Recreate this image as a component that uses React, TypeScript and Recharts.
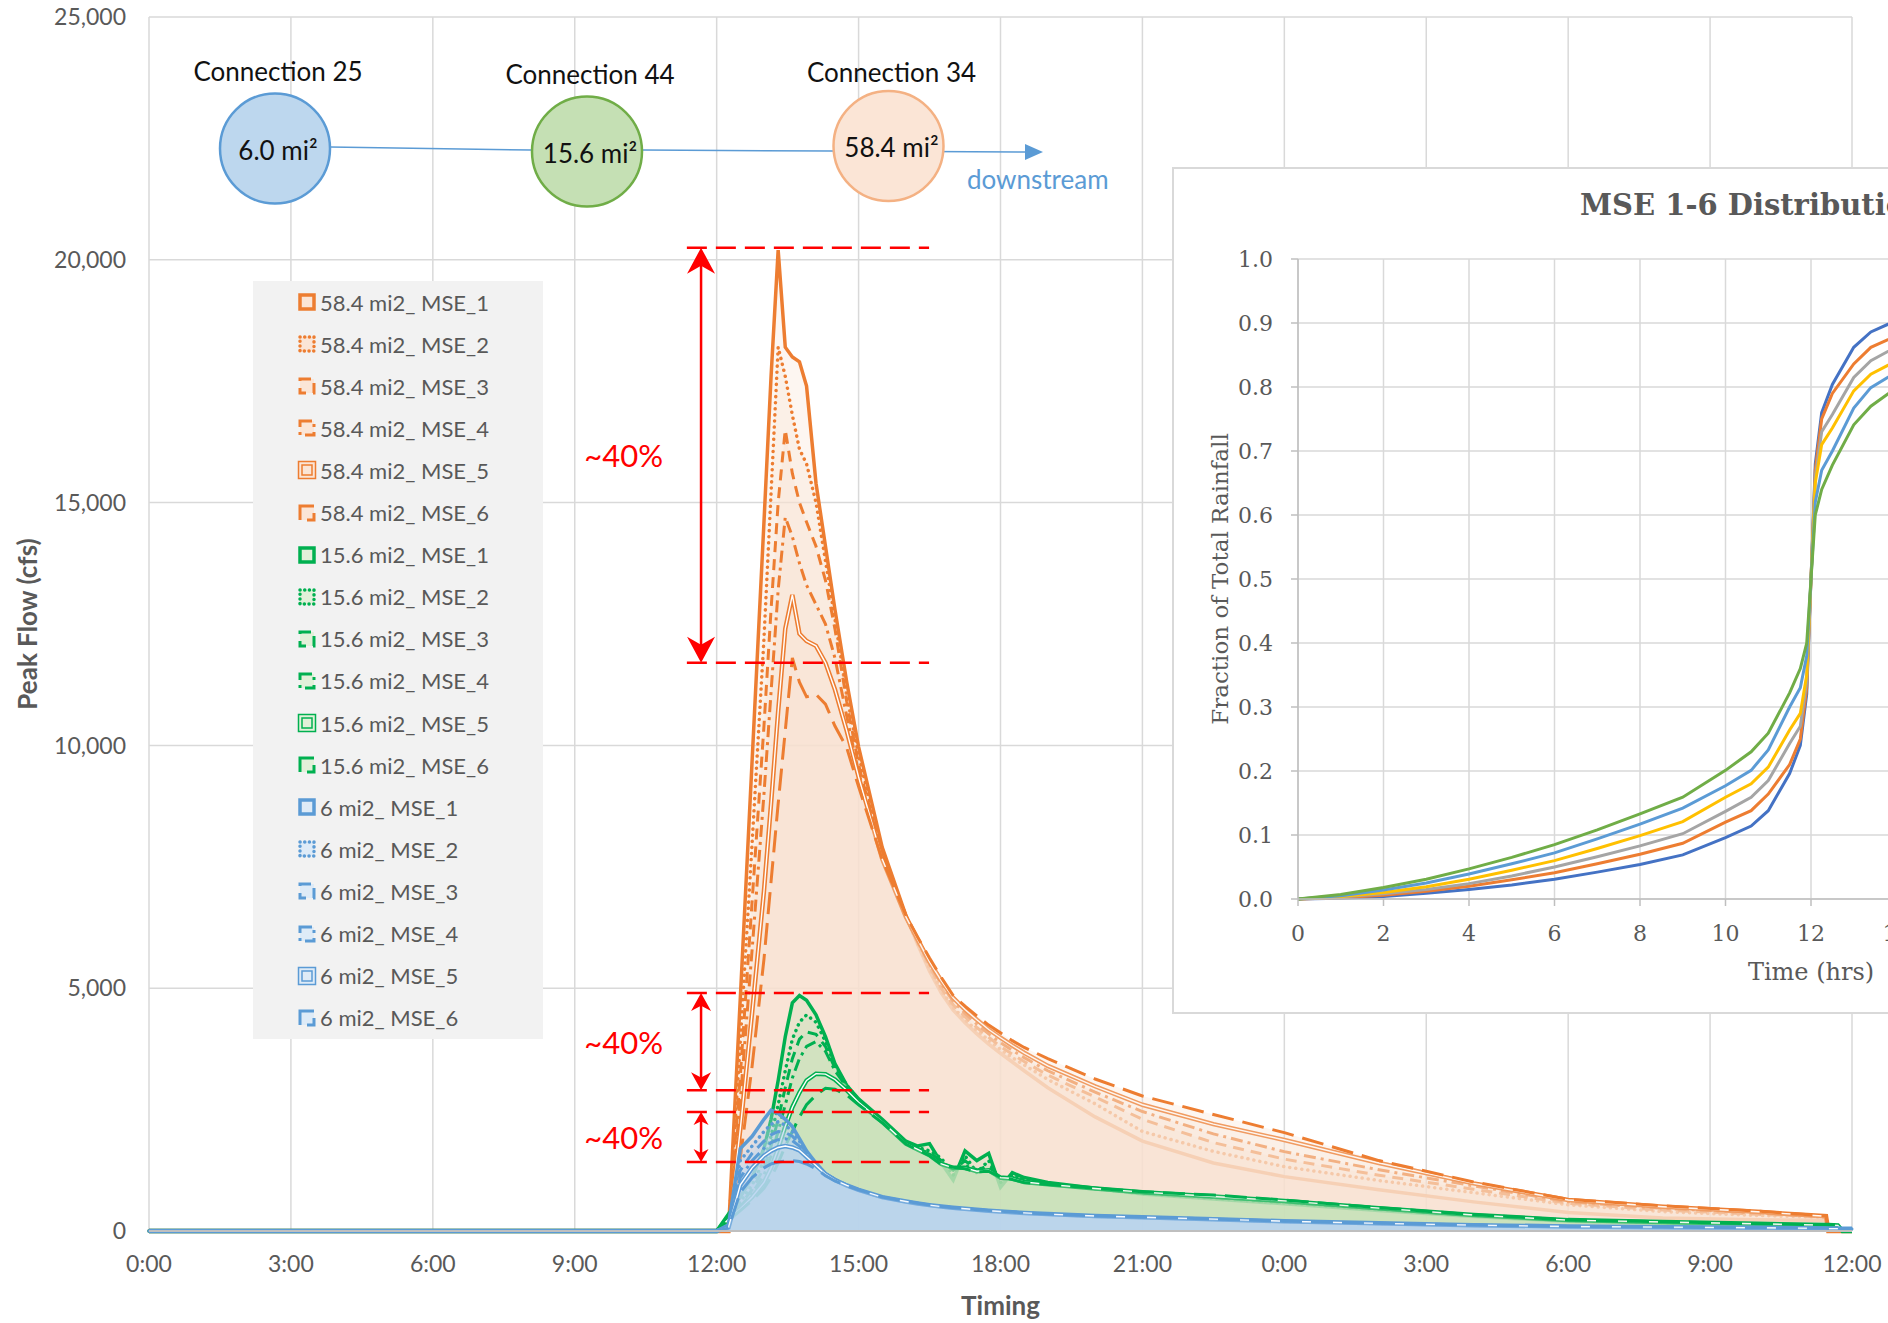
import React from "react";
import {
  ComposedChart, Area, XAxis, YAxis, CartesianGrid, ReferenceLine,
  LineChart, Line,
} from "recharts";

// time axis in hours from 0:00 on day 1 (36 h shown)
const hours = [0, 12, 12.25, 12.5, 12.75, 13, 13.15, 13.3, 13.45, 13.6, 13.75, 13.9, 14.1, 14.3, 14.5, 14.75, 15, 15.5, 16, 16.25, 16.5, 16.75, 17, 17.25, 17.5, 17.75, 18, 18.25, 18.5, 19, 20, 21, 22.5, 24, 26, 28, 30, 32, 34, 35.45, 35.5, 35.7, 35.8, 36];

// 58.4 mi2 (Connection 34)
const flow58_1 = [0, 0, 0, 4800, 9700, 14600, 17600, 20200, 18200, 18000, 17900, 17400, 15400, 14100, 12800, 11300, 9970, 7900, 6500, 5900, 5350, 4900, 4550, 4290, 4060, 3850, 3660, 3480, 3300, 2950, 2350, 1850, 1400, 1120, 850, 600, 380, 270, 230, 220, 0, 0, 0, 0];
const flow58_2 = [0, 0, 0, 3900, 8000, 12200, 15200, 18200, 17600, 16800, 16100, 15800, 15000, 13800, 12600, 11000, 9800, 7800, 6480, 5920, 5400, 4950, 4600, 4350, 4130, 3930, 3740, 3570, 3420, 3120, 2620, 2050, 1640, 1325, 1040, 790, 540, 400, 320, 280, 0, 0, 0, 0];
const flow58_3 = [0, 0, 0, 3200, 6800, 10400, 12800, 15000, 16500, 15600, 15000, 14600, 14100, 13400, 12400, 10900, 9600, 7720, 6460, 5940, 5450, 5000, 4660, 4410, 4190, 3990, 3800, 3640, 3490, 3210, 2760, 2300, 1820, 1480, 1150, 860, 570, 430, 345, 290, 0, 0, 0, 0];
const flow58_4 = [0, 0, 0, 2700, 5800, 9000, 11100, 13200, 14700, 14300, 13750, 13300, 12900, 12500, 11800, 10600, 9450, 7680, 6460, 5960, 5500, 5080, 4730, 4480, 4260, 4060, 3880, 3720, 3570, 3300, 2860, 2460, 2000, 1634, 1260, 930, 600, 465, 370, 300, 0, 0, 0, 0];
const flow58_5 = [0, 0, 0, 2100, 4500, 7000, 8800, 10700, 12400, 13100, 12300, 12150, 12050, 11700, 11150, 10300, 9350, 7660, 6470, 6000, 5540, 5150, 4800, 4560, 4350, 4150, 3980, 3820, 3670, 3400, 2980, 2600, 2200, 1874, 1400, 980, 638, 500, 395, 305, 0, 0, 0, 0];
const flow58_6 = [0, 0, 0, 1500, 3400, 5600, 7200, 8800, 10300, 11800, 11300, 11000, 11050, 10850, 10400, 9950, 9150, 7650, 6500, 6050, 5620, 5220, 4850, 4630, 4430, 4240, 4080, 3920, 3780, 3550, 3130, 2780, 2400, 2025, 1450, 1010, 652, 520, 410, 310, 0, 0, 0, 0];

// 15.6 mi2 (Connection 44)
const flow15_1 = [0, 0, 350, 700, 1100, 1700, 2300, 3100, 4000, 4700, 4850, 4750, 4450, 4000, 3450, 3000, 2720, 2300, 1850, 1750, 1800, 1400, 1050, 1650, 1450, 1600, 900, 1200, 1100, 1000, 880, 760, 660, 560, 420, 300, 200, 160, 130, 110, 110, 100, 0, 0];
const flow15_2 = [0, 0, 300, 600, 950, 1450, 1950, 2600, 3300, 3950, 4300, 4450, 4300, 3900, 3400, 3000, 2700, 2280, 1830, 1720, 1650, 1500, 1150, 1550, 1200, 1450, 1000, 1150, 1060, 980, 870, 770, 670, 575, 440, 315, 210, 170, 138, 115, 115, 105, 0, 0];
const flow15_3 = [0, 0, 280, 550, 850, 1300, 1750, 2300, 2950, 3550, 3950, 4100, 4050, 3800, 3350, 2980, 2690, 2270, 1820, 1700, 1600, 1450, 1250, 1450, 1250, 1350, 1050, 1120, 1030, 970, 870, 780, 685, 590, 450, 320, 215, 175, 142, 118, 118, 108, 0, 0];
const flow15_4 = [0, 0, 260, 500, 780, 1150, 1550, 2050, 2600, 3150, 3550, 3800, 3900, 3700, 3300, 2960, 2680, 2260, 1810, 1690, 1570, 1400, 1280, 1350, 1250, 1280, 1080, 1100, 1020, 960, 870, 790, 695, 605, 460, 325, 220, 180, 145, 120, 120, 112, 0, 0];
const flow15_5 = [0, 0, 240, 460, 700, 1000, 1300, 1700, 2150, 2550, 2850, 3100, 3240, 3230, 3120, 2900, 2650, 2250, 1800, 1680, 1560, 1380, 1300, 1300, 1230, 1250, 1100, 1080, 1010, 960, 875, 800, 710, 620, 470, 330, 224, 185, 148, 122, 122, 115, 0, 0];
const flow15_6 = [0, 0, 220, 420, 630, 880, 1100, 1400, 1750, 2050, 2350, 2600, 2800, 2940, 2920, 2800, 2600, 2230, 1790, 1670, 1550, 1370, 1310, 1280, 1220, 1230, 1110, 1060, 1000, 960, 880, 810, 740, 638, 480, 335, 228, 190, 150, 125, 125, 120, 0, 0];

// 6 mi2 (Connection 25)
const flow6_1 = [0, 0, 130, 1700, 1950, 2300, 2490, 2420, 2300, 2150, 1900, 1650, 1400, 1180, 1060, 940, 840, 690, 600, 560, 525, 495, 470, 450, 430, 410, 395, 380, 365, 340, 300, 275, 235, 192, 150, 115, 89, 75, 62, 50, 48, 45, 43, 40];
const flow6_2 = [0, 0, 110, 1450, 1750, 2050, 2200, 2250, 2180, 2050, 1850, 1620, 1390, 1180, 1060, 940, 842, 692, 602, 562, 527, 497, 472, 452, 432, 412, 397, 382, 367, 342, 302, 277, 238, 195, 152, 117, 90, 76, 63, 51, 49, 46, 44, 41];
const flow6_3 = [0, 0, 95, 1250, 1600, 1850, 1980, 2050, 2030, 1950, 1800, 1600, 1380, 1180, 1060, 942, 844, 694, 604, 564, 529, 499, 474, 454, 434, 414, 399, 384, 369, 344, 304, 279, 240, 197, 154, 118, 91, 77, 64, 52, 50, 47, 45, 42];
const flow6_4 = [0, 0, 85, 1100, 1450, 1700, 1820, 1880, 1900, 1860, 1750, 1580, 1370, 1180, 1060, 944, 846, 696, 606, 566, 531, 501, 476, 456, 436, 416, 401, 386, 371, 346, 306, 281, 242, 199, 156, 119, 92, 78, 65, 53, 51, 48, 46, 43];
const flow6_5 = [0, 0, 75, 950, 1300, 1550, 1650, 1720, 1750, 1720, 1660, 1530, 1350, 1170, 1050, 938, 848, 698, 608, 568, 533, 503, 478, 458, 438, 418, 403, 388, 373, 348, 308, 283, 244, 201, 158, 120, 93, 79, 66, 54, 52, 49, 47, 44];
const flow6_6 = [0, 0, 65, 800, 1100, 1300, 1380, 1420, 1440, 1450, 1430, 1380, 1280, 1140, 1030, 930, 850, 700, 610, 570, 535, 505, 480, 460, 440, 420, 405, 390, 375, 350, 310, 285, 246, 203, 160, 121, 94, 80, 67, 55, 53, 50, 48, 45];

const timeTicks = [0, 3, 6, 9, 12, 15, 18, 21, 24, 27, 30, 33, 36];
const flowTicks = [0, 5000, 10000, 15000, 20000, 25000];

// red "~40%" markers: [top, bottom] flow levels
const dropSpans = [
  { top: 20250, bottom: 11700, head: 26 },
  { top: 4900, bottom: 2900, head: 18 },
  { top: 2450, bottom: 1420, head: 13 },
];
const guideFrom = 11.37;
const guideTo = 16.49;
const arrowAt = 11.67;

// inset: MSE 1-6 cumulative rainfall distributions
const insetHours = [0, 1, 2, 3, 4, 5, 6, 7, 8, 9, 10, 10.6, 11, 11.5, 11.75, 11.9, 12, 12.1, 12.25, 12.5, 13, 13.4, 14, 15, 16, 17, 18, 19, 20, 21, 22, 23, 24];
const mse1 = [0, 0.001, 0.004, 0.009, 0.015, 0.022, 0.031, 0.042, 0.054, 0.069, 0.096, 0.114, 0.138, 0.196, 0.24, 0.32, 0.5, 0.68, 0.76, 0.804, 0.862, 0.886, 0.904, 0.931, 0.946, 0.958, 0.969, 0.978, 0.985, 0.991, 0.996, 0.999, 1];
const mse2 = [0, 0.002, 0.006, 0.012, 0.02, 0.03, 0.041, 0.055, 0.07, 0.087, 0.12, 0.138, 0.164, 0.21, 0.25, 0.33, 0.5, 0.67, 0.75, 0.79, 0.836, 0.862, 0.88, 0.913, 0.93, 0.945, 0.959, 0.97, 0.98, 0.988, 0.994, 0.998, 1];
const mse3 = [0, 0.003, 0.008, 0.015, 0.024, 0.036, 0.05, 0.066, 0.083, 0.102, 0.137, 0.159, 0.185, 0.243, 0.27, 0.34, 0.5, 0.66, 0.73, 0.757, 0.815, 0.841, 0.863, 0.898, 0.917, 0.934, 0.95, 0.964, 0.976, 0.985, 0.992, 0.997, 1];
const mse4 = [0, 0.004, 0.01, 0.019, 0.031, 0.045, 0.06, 0.079, 0.099, 0.121, 0.159, 0.18, 0.206, 0.264, 0.29, 0.35, 0.5, 0.65, 0.71, 0.736, 0.794, 0.82, 0.841, 0.879, 0.901, 0.921, 0.94, 0.955, 0.969, 0.981, 0.99, 0.996, 1];
const mse5 = [0, 0.005, 0.014, 0.025, 0.039, 0.055, 0.072, 0.094, 0.117, 0.142, 0.177, 0.201, 0.233, 0.3, 0.33, 0.38, 0.5, 0.62, 0.67, 0.7, 0.767, 0.799, 0.823, 0.858, 0.883, 0.906, 0.928, 0.945, 0.961, 0.975, 0.986, 0.995, 1];
const mse6 = [0, 0.007, 0.018, 0.031, 0.047, 0.065, 0.085, 0.108, 0.133, 0.159, 0.201, 0.23, 0.259, 0.322, 0.36, 0.4, 0.5, 0.6, 0.64, 0.678, 0.741, 0.77, 0.799, 0.841, 0.867, 0.892, 0.915, 0.935, 0.953, 0.969, 0.982, 0.993, 1];
const insetTimeTicks = [0, 2, 4, 6, 8, 10, 12, 14, 16, 18, 20, 22, 24];
const fractionTicks = [0, 0.1, 0.2, 0.3, 0.4, 0.5, 0.6, 0.7, 0.8, 0.9, 1];
const insetColors = ["#4472C4", "#ED7D31", "#A5A5A5", "#FFC000", "#5B9BD5", "#70AD47"];

const groups = [
  { id: "o", area: "58.4 mi2", line: "#ED7D31", fill: "#FAE1D0", fillOpacity: 0.3, icon: "#FBE5D6", values: [flow58_1, flow58_2, flow58_3, flow58_4, flow58_5, flow58_6] },
  { id: "g", area: "15.6 mi2", line: "#00B050", fill: "#C6E2B8", fillOpacity: 0.3, icon: "#E2F0D9", values: [flow15_1, flow15_2, flow15_3, flow15_4, flow15_5, flow15_6] },
  { id: "b", area: "6 mi2", line: "#5B9BD5", fill: "#BBD4F2", fillOpacity: 0.3, icon: "#DEEBF7", values: [flow6_1, flow6_2, flow6_3, flow6_4, flow6_5, flow6_6] },
];

// Excel line styles for MSE_1..6
const mseStyles = [
  { width: 3.5 },
  { width: 3.5, dash: "0.1 6", cap: "round" },
  { width: 3, dash: "11 7" },
  { width: 3, dash: "12 5 3 5" },
  { width: 4.5, double: true },
  { width: 3, dash: "22 9" },
];

const rows = hours.map((t, i) => {
  const r: Record<string, number> = { t };
  groups.forEach((g) => g.values.forEach((arr, j) => { r[`${g.id}${j + 1}`] = arr[i]; }));
  return r;
});

const insetRows = insetHours.map((t, i) => ({
  t, m1: mse1[i], m2: mse2[i], m3: mse3[i], m4: mse4[i], m5: mse5[i], m6: mse6[i],
}));

const nodes = [
  { title: "Connection 25", size: "6.0 mi²", cx: 275, cy: 148.5, titleY: 71, fill: "#BDD7EE", stroke: "#5B9BD5" },
  { title: "Connection 44", size: "15.6 mi²", cx: 587, cy: 151.5, titleY: 74, fill: "#C5E0B4", stroke: "#70AD47" },
  { title: "Connection 34", size: "58.4 mi²", cx: 888.5, cy: 146, titleY: 72, fill: "#FBE5D6", stroke: "#F4B183" },
];

const fmtTime = (h: number) => `${h % 24}:00`;
const fmtFlow = (v: number) => (v === 0 ? "0" : v.toLocaleString("en-US"));
const tickFont = { fill: "#595959", fontSize: 23, fontFamily: "Lato" };
const serifTick = { fill: "#595959", fontSize: 22, fontFamily: "DejaVu Serif" };

function DoubleArrow(p: any) {
  const { x1, y1, y2, head, text } = p;
  const top = Math.min(y1, y2);
  const bot = Math.max(y1, y2);
  const w = head / 2 + 1;
  const h = head;
  return (
    <g>
      <line x1={x1} y1={top + h * 0.6} x2={x1} y2={bot - h * 0.6} stroke="#FF0000" strokeWidth={2.5} />
      <path d={`M${x1},${top} L${x1 + w},${top + h} L${x1},${top + h * 0.7} L${x1 - w},${top + h} Z`} fill="#FF0000" />
      <path d={`M${x1},${bot} L${x1 + w},${bot - h} L${x1},${bot - h * 0.7} L${x1 - w},${bot - h} Z`} fill="#FF0000" />
      <text x={x1 - 38} y={(top + bot) / 2} textAnchor="end" dominantBaseline="central" fill="#FF0000" fontSize={31} fontFamily="Lato">
        {text}
      </text>
    </g>
  );
}

function LegendIcon({ color, fill, style }: any) {
  if (style.double) {
    return (
      <svg width={20} height={20}>
        <rect x={1.5} y={1.5} width={17} height={17} fill={fill} stroke={color} strokeWidth={1.5} />
        <rect x={5} y={5} width={10} height={10} fill="none" stroke={color} strokeWidth={1.5} />
      </svg>
    );
  }
  return (
    <svg width={20} height={20}>
      <rect x={3} y={3} width={14} height={14} fill={fill} stroke={color} strokeWidth={style.width}
        strokeDasharray={style.dash ? style.dash.replace("0.1 6", "0.1 4.6").replace("22 9", "14 7") : undefined}
        strokeLinecap={style.cap || "butt"} />
    </svg>
  );
}

function FlowLegend() {
  const items = groups.flatMap((g) =>
    g.values.map((_, j) => ({ name: `${g.area}_ MSE_${j + 1}`, color: g.line, fill: g.icon, style: mseStyles[j] })),
  );
  return (
    <div style={{ position: "absolute", left: 253, top: 281, width: 290, height: 758, background: "#F2F2F2" }}>
      {items.map((it, i) => (
        <div key={it.name} style={{ position: "absolute", left: 44, top: 8 + i * 42.1, height: 26, display: "flex", alignItems: "center", gap: 3 }}>
          <LegendIcon color={it.color} fill={it.fill} style={it.style} />
          <span style={{ fontFamily: "Lato", fontSize: 22, color: "#595959", whiteSpace: "nowrap" }}>{it.name}</span>
        </div>
      ))}
    </div>
  );
}

function Diagram() {
  return (
    <svg width={1888} height={1323} style={{ position: "absolute", left: 0, top: 0, pointerEvents: "none" }}>
      <polyline points="330,147 531,150 643,150 832,151 1028,152" fill="none" stroke="#5B9BD5" strokeWidth={1.5} />
      <path d="M1025,144 L1043,152 L1025,160 Z" fill="#5B9BD5" />
      {nodes.map((n) => (
        <g key={n.title}>
          <circle cx={n.cx} cy={n.cy} r={55} fill={n.fill} stroke={n.stroke} strokeWidth={2.5} />
          <text x={n.cx + 3} y={n.titleY} textAnchor="middle" dominantBaseline="central" fontFamily="Lato" fontSize={26} fill="#111">{n.title}</text>
          <text x={n.cx + 3} y={n.cy + 1} textAnchor="middle" dominantBaseline="central" fontFamily="Lato" fontSize={26} fill="#111">{n.size}</text>
        </g>
      ))}
      <text x={967} y={179} dominantBaseline="central" fontFamily="Lato" fontSize={26} fill="#5B9BD5">downstream</text>
    </svg>
  );
}

function Inset() {
  return (
    <div style={{ position: "absolute", left: 1172, top: 167, width: 1200, height: 847, boxSizing: "border-box", border: "2px solid #d9d9d9", background: "#fff" }}>
      <div style={{ position: "absolute", left: 406, top: 22, fontFamily: "DejaVu Serif", fontWeight: 700, fontSize: 29, lineHeight: 1, color: "#595959", whiteSpace: "nowrap" }}>
        MSE 1-6 Distribution
      </div>
      <LineChart width={1196} height={843} data={insetRows} margin={{ top: 90, right: 46, bottom: 1, left: 24 }}>
        <CartesianGrid stroke="#d9d9d9" strokeWidth={1.5} />
        <XAxis dataKey="t" type="number" domain={[0, 24]} ticks={insetTimeTicks} interval={0} height={112}
          tickSize={7} tickMargin={19} tickLine={{ stroke: "#bfbfbf", strokeWidth: 1.5 }} axisLine={{ stroke: "#bfbfbf", strokeWidth: 1.5 }}
          tick={serifTick}
          label={{ value: "Time (hrs)", position: "insideBottom", offset: 31, fill: "#595959", fontSize: 24, fontFamily: "DejaVu Serif" }} />
        <YAxis type="number" domain={[0, 1]} ticks={fractionTicks} interval={0} width={100}
          tickSize={7} tickMargin={18} tickFormatter={(v: number) => v.toFixed(1)}
          tickLine={{ stroke: "#bfbfbf", strokeWidth: 1.5 }} axisLine={{ stroke: "#bfbfbf", strokeWidth: 1.5 }}
          tick={serifTick}
          label={{ value: "Fraction of Total Rainfall", angle: -90, position: "insideLeft", offset: 22, fill: "#595959", fontSize: 23, fontFamily: "DejaVu Serif", style: { textAnchor: "middle" } }} />
        {insetColors.map((c, i) => (
          <Line key={c} dataKey={`m${i + 1}`} type="linear" stroke={c} strokeWidth={3} dot={false} activeDot={false} isAnimationActive={false} />
        ))}
      </LineChart>
    </div>
  );
}

export default function App() {
  const areas: React.ReactNode[] = [];
  groups.forEach((g) => {
    g.values.forEach((_, j) => {
      const st = mseStyles[j];
      const key = `${g.id}${j + 1}`;
      areas.push(
        <Area key={key} dataKey={key} type="linear" stroke={g.line} strokeWidth={st.width}
          strokeDasharray={st.dash} strokeLinecap={(st.cap as any) || "butt"}
          fill={g.fill} fillOpacity={g.fillOpacity} dot={false} activeDot={false} isAnimationActive={false} />,
      );
      if (st.double) {
        areas.push(
          <Area key={`${key}-inner`} dataKey={key} type="linear" stroke="#ffffff" strokeWidth={1.4}
            fill="none" fillOpacity={0} dot={false} activeDot={false} isAnimationActive={false} />,
        );
      }
    });
  });

  return (
    <div style={{ position: "fixed", left: 0, top: 0, width: 1888, height: 1323, overflow: "hidden", background: "#fff", fontFamily: "Lato" }}>
      <div style={{ position: "absolute", left: 0, top: 0 }}>
        <ComposedChart width={1888} height={1323} data={rows} margin={{ top: 17, right: 36, bottom: 0, left: 0 }}>
          <CartesianGrid stroke="#d9d9d9" strokeWidth={1.5} />
          <XAxis dataKey="t" type="number" domain={[0, 36]} ticks={timeTicks} interval={0} tickFormatter={fmtTime}
            height={92} tickLine={false} tickSize={5} tickMargin={20}
            axisLine={{ stroke: "#bfbfbf", strokeWidth: 2 }} tick={tickFont}
            label={{ value: "Timing", position: "insideBottom", offset: 8, fill: "#595959", fontSize: 26, fontWeight: 700, fontFamily: "Lato" }} />
          <YAxis type="number" domain={[0, 25000]} ticks={flowTicks} interval={0} tickFormatter={fmtFlow}
            width={149} tickLine={false} axisLine={false} tickSize={5} tickMargin={18} tick={tickFont}
            label={{ value: "Peak Flow (cfs)", angle: -90, position: "insideLeft", offset: 28, fill: "#595959", fontSize: 26, fontWeight: 700, fontFamily: "Lato", style: { textAnchor: "middle" } }} />
          {areas}
          {dropSpans.flatMap((s) => [s.top, s.bottom]).map((lv, i) => (
            <ReferenceLine key={`guide-${i}`} segment={[{ x: guideFrom, y: lv }, { x: guideTo, y: lv }]}
              stroke="#FF0000" strokeWidth={2.5} strokeDasharray="20 9" />
          ))}
          {dropSpans.map((s, i) => (
            <ReferenceLine key={`span-${i}`} segment={[{ x: arrowAt, y: s.top }, { x: arrowAt, y: s.bottom }]}
              stroke="#FF0000" shape={(p: any) => <DoubleArrow {...p} head={s.head} text="~40%" />} />
          ))}
        </ComposedChart>
      </div>
      <FlowLegend />
      <Inset />
      <Diagram />
    </div>
  );
}
